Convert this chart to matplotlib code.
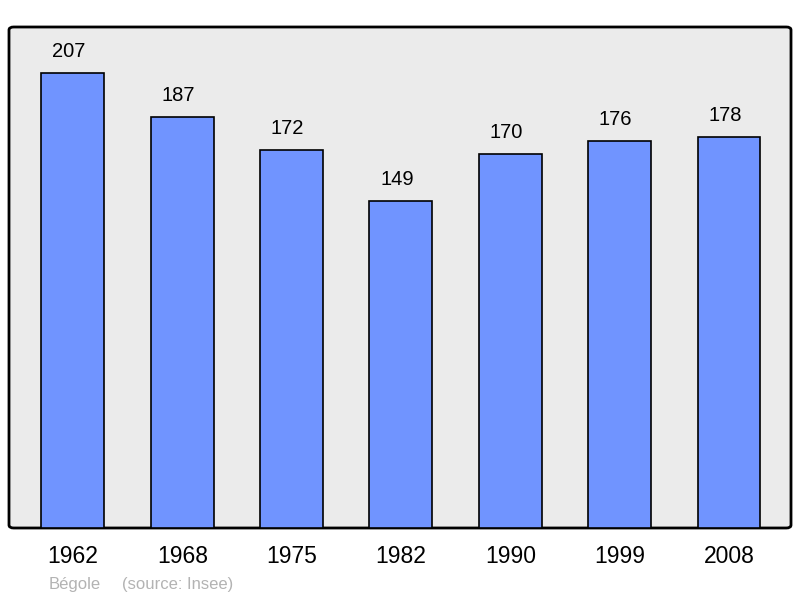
import matplotlib

matplotlib.use("Agg")
import matplotlib.pyplot as plt
from matplotlib.patches import FancyBboxPatch

plt.rcParams["font.family"] = ["Liberation Sans", "DejaVu Sans"]

years = ["1962", "1968", "1975", "1982", "1990", "1999", "2008"]
population = [207, 187, 172, 149, 170, 176, 178]
commune = "Bégole"
source = "(source: Insee)"

fig = plt.figure(figsize=(8.0, 5.98), dpi=100)
ax = fig.add_axes([9 / 800, 70 / 598, 782 / 800, 501 / 598])
ax.set_xlim(-0.585, 6.567)
ax.set_ylim(0, 228)
ax.set_facecolor("none")

# rounded frame behind the bars
frame = FancyBboxPatch((0, 0), 1, 1, boxstyle="round,pad=0,rounding_size=0.006",
                       transform=ax.transAxes, facecolor="#ebebeb", edgecolor="black",
                       linewidth=2, zorder=0, clip_on=False)
ax.add_patch(frame)

x = range(len(years))
ax.bar(x, population, width=0.576, color="#7094ff", edgecolor="black", linewidth=1.2, zorder=2)

# value labels sit slightly left of bar centre in the original
for i, v in enumerate(population):
    ax.annotate(str(v), (i, v), xytext=(-3, 15.5), textcoords="offset points",
                ha="center", va="center", fontsize=14.5, color="black")

for s in ax.spines.values():
    s.set_visible(False)
ax.set_xticks(list(x))
ax.set_xticklabels(years, fontsize=16.5)
ax.tick_params(axis="x", length=0, pad=12.5)
ax.set_yticks([])

fig.text(49 / 800, 1 - 585 / 598, commune, fontsize=12, color="#b3b3b3", va="center", ha="left")
fig.text(122 / 800, 1 - 585 / 598, source, fontsize=12, color="#b3b3b3", va="center", ha="left")

fig.savefig("out.png", dpi=100)
